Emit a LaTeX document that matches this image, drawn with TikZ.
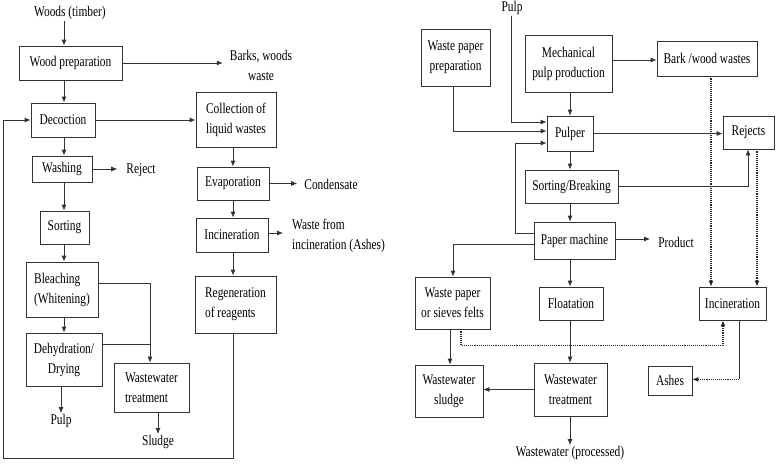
\documentclass[tikz,border=0pt]{standalone}
\usepackage{fontspec}
\setmainfont{Liberation Serif}[FakeStretch=0.77]
\usetikzlibrary{arrows.meta}
\newcommand\dtxt{\fontsize{14.8}{20}\selectfont}
\begin{document}
\begin{tikzpicture}[x=1pt,y=-1pt,
  box/.style={draw=black!80,line width=0.75pt,inner sep=0pt,align=center,font=\dtxt},
  sz/.style 2 args={minimum width=#1pt,minimum height=#2pt},
  lbl/.style={inner sep=1pt,align=center,font=\dtxt},
  ln/.style={draw=black!80,line width=0.75pt},
  arr/.style={ln,-{Latex[length=6pt,width=5pt]}},
  dot/.style={draw=black!85,line width=1.1pt,densely dotted},
  darr/.style={dot,-{Latex[length=6pt,width=5pt]}}]
\useasboundingbox[fill=white] (0,0) rectangle (776,463);

% ---------- left diagram ----------
\node[lbl] (woods) at (70,13) {Woods (timber)};
\node[box,sz={103}{34}] (wp) at (70.5,63) {Wood preparation};
\node[lbl] (barks) at (261,65) {Barks, woods\\waste};
\node[box,sz={64}{34}] (dec) at (63,120) {Decoction};
\node[box,sz={80}{55},align=left] (coll) at (236,119.5) {Collection of\\liquid wastes};
\node[box,sz={60}{26}] (wash) at (62,169) {Washing};
\node[lbl] (reject) at (141,170) {Reject};
\node[box,sz={49}{33}] (sort) at (64.5,227.5) {Sorting};
\node[box,sz={72}{55},align=left] (bleach) at (62,289.5) {Bleaching\\(Whitening)};
\node[box,sz={76}{53}] (dehyd) at (64,359.5) {Dehydration/\\Drying};
\node[box,sz={75}{49},align=left] (wwta) at (151.5,387.5) {Wastewater\\treatment};
\node[lbl] (pulpa) at (61,421) {Pulp};
\node[lbl] (sludge) at (158,442) {Sludge};
\node[box,sz={72}{33}] (evap) at (233,183.5) {Evaporation};
\node[lbl] (cond) at (331,184) {Condensate};
\node[box,sz={72}{34}] (inca) at (232,235) {Incineration};
\node[lbl,align=left,anchor=west] (wfi) at (291,236) {Waste from\\incineration (Ashes)};
\node[box,sz={81}{57},align=left] (regen) at (235.5,304.5) {Regeneration\\of reagents};

\coordinate (cA) at (64,0);
\coordinate (cB) at (233,0);
\coordinate (cW) at (150,0);
\coordinate (cL) at (3,458);

\draw[arr] (cA |- woods.south) -- (cA |- wp.north);
\draw[arr] (wp.east) -- ([xshift=-6pt]wp.east -| barks.west);
\draw[arr] (cA |- wp.south) -- (cA |- dec.north);
\draw[arr] (dec.east) -- (dec.east -| coll.west);
\draw[arr] (cA |- dec.south) -- (cA |- wash.north);
\draw[arr] (wash.east) -- ([xshift=-8pt]wash.east -| reject.west);
\draw[arr] (cA |- wash.south) -- (cA |- sort.north);
\draw[arr] (cA |- sort.south) -- (cA |- bleach.north);
\draw[arr] (cA |- bleach.south) -- (cA |- dehyd.north);
\draw[arr] ([yshift=6.5pt]bleach.east) -| (wwta.north -| cW);
\draw[ln] ([yshift=15.5pt]dehyd.east) coordinate (dh) -- (dh -| cW);
\draw[arr] (dehyd.south -| pulpa) -- (pulpa.north);
\draw[arr] (wwta.south -| sludge) -- (sludge.north);
\draw[arr] (cB |- coll.south) -- (cB |- evap.north);
\draw[arr] (evap.east) -- ([xshift=-6pt]evap.east -| cond.west);
\draw[arr] (cB |- evap.south) -- (cB |- inca.north);
\draw[arr] ([yshift=2pt]inca.east) -- ([xshift=-8pt,yshift=2pt]inca.east -| wfi.west);
\draw[arr] (cB |- inca.south) -- (cB |- regen.north);
\draw[arr] (cB |- regen.south) -- (cB |- cL) -- (cL) |- (dec.west);

% ---------- right diagram ----------
\node[lbl] (pulpb) at (512,8) {Pulp};
\node[box,sz={69}{57}] (wpp) at (455.5,57.5) {Waste paper\\preparation};
\node[box,sz={87}{57}] (mech) at (568.5,63.5) {Mechanical\\pulp production};
\node[box,sz={100}{35}] (bark) at (707,58.5) {Bark /wood wastes};
\node[box,sz={46}{35}] (pulper) at (570,133.5) {Pulper};
\node[box,sz={51}{33}] (rej) at (748.5,132.5) {Rejects};
\node[box,sz={93}{33}] (sortb) at (571.5,186.5) {Sorting/Breaking};
\node[box,sz={81}{37}] (pm) at (574.5,240.5) {Paper machine};
\node[lbl] (product) at (676,242) {Product};
\node[box,sz={75}{52}] (wpsf) at (452.5,303) {Waste paper\\or sieves felts};
\node[box,sz={64}{33}] (flot) at (571,303.5) {Floatation};
\node[box,sz={67}{33}] (incb) at (732.5,303.5) {Incineration};
\node[box,sz={68}{52}] (wws) at (449,391) {Wastewater\\sludge};
\node[box,sz={73}{53}] (wwtb) at (570.5,389.5) {Wastewater\\treatment};
\node[box,sz={44}{29}] (ashes) at (670,380.5) {Ashes};
\node[lbl] (wwp) at (570,453) {Wastewater (processed)};

\draw[arr] ([xshift=-1pt]pulpb.south) |- ([yshift=11.5pt]pulper.west);
\draw[arr] ([xshift=-2.5pt]wpp.south) |- ([yshift=2.5pt]pulper.west);
\draw[arr] ([yshift=7.5pt]pm.west) -- ++(-18,0) |- ([yshift=-9.5pt]pulper.west);
\draw[arr] (mech.south -| pulper) -- (pulper.north);
\draw[arr] ([yshift=3.5pt]mech.east) -- ([yshift=3.5pt]mech.east -| bark.west);
\draw[arr] (pulper.east) -- (pulper.east -| rej.west);
\draw[darr] ([xshift=4pt]bark.south) -- ([xshift=4pt]bark.south |- incb.north);
\draw[darr] ([xshift=8.5pt]rej.south) -- ([xshift=8.5pt]rej.south |- incb.north);
\draw[arr] (pulper.south) -- (pulper.south |- sortb.north);
\draw[arr] (sortb.east) -| ([xshift=-0.5pt]rej.south);
\draw[arr] (pulper.south |- sortb.south) -- (pulper.south |- pm.north);
\draw[arr] ([yshift=1.5pt]pm.east) -- ([xshift=-7pt,yshift=1.5pt]pm.east -| product.west);
\draw[arr] ([yshift=-3.5pt]pm.west) -| ([xshift=0.5pt]wpsf.north);
\draw[arr] (pulper.south |- pm.south) -- (pulper.south |- flot.north);
\draw[arr] ([xshift=-2.5pt]wpsf.south) -- ([xshift=-2.5pt]wpsf.south |- wws.north);
\draw[darr] ([xshift=8.5pt]wpsf.south) -- ++(0,16) -| ([xshift=-9.5pt]incb.south);
\draw[arr] (pulper.south |- flot.south) -- (pulper.south |- wwtb.north);
\draw[arr] (wwtb.west) -- (wwtb.west -| wws.east);
\draw[arr] (wwtb.south -| wwp) -- (wwp.north);
\draw[ln] ([xshift=6.5pt]incb.south) -- ++(0,59) coordinate (ia);
\draw[darr] (ia) -- (ia -| ashes.east);
\end{tikzpicture}
\end{document}
